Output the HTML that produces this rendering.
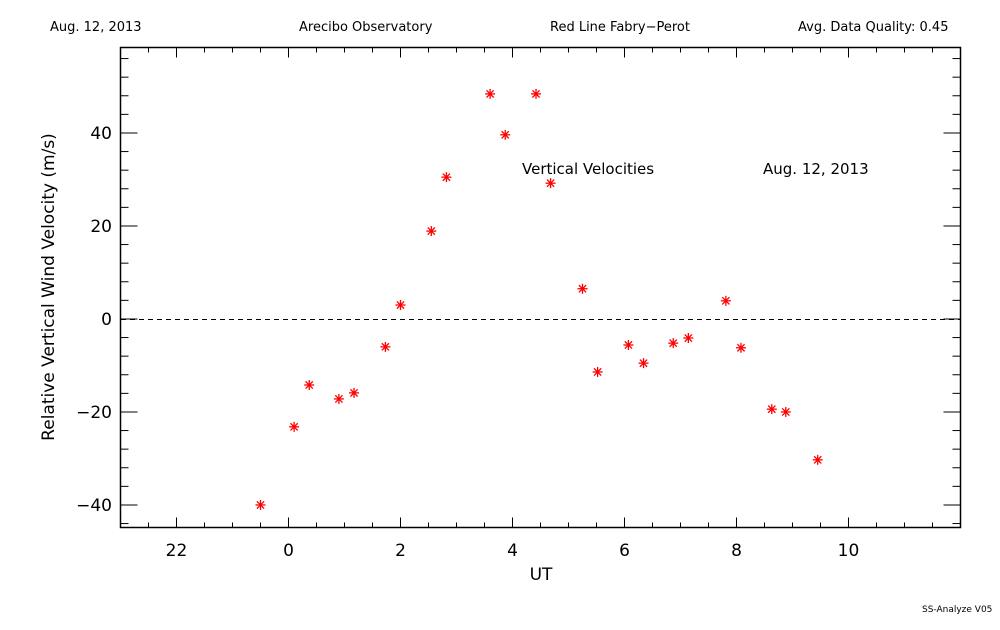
<!DOCTYPE html>
<html><head><meta charset="utf-8"><style>
body{margin:0;background:#fff;}
svg text{font-family:"DejaVu Sans","Liberation Sans",sans-serif;fill:#000;}
</style></head><body>
<svg id="chart" width="1000" height="625" viewBox="0 0 1000 625" xmlns="http://www.w3.org/2000/svg">
<rect width="1000" height="625" fill="#fff"/>
<text x="50" y="31" font-size="13">Aug. 12, 2013</text>
<text x="299" y="31" font-size="13">Arecibo Observatory</text>
<text x="550" y="31" font-size="13">Red Line Fabry−Perot</text>
<text x="798" y="31" font-size="13">Avg. Data Quality: 0.45</text>
<rect x="120.5" y="47.5" width="840" height="480" fill="none" stroke="#000" stroke-width="1.5"/>
<g id="ticks"></g>
<line x1="121" y1="319.5" x2="960" y2="319.5" stroke="#000" stroke-dasharray="5,4"/>
<text x="522" y="174" font-size="15">Vertical Velocities</text>
<text x="763" y="174" font-size="15">Aug. 12, 2013</text>
<text x="541" y="580" font-size="17" text-anchor="middle">UT</text>
<text transform="translate(54,287) rotate(-90)" font-size="17" text-anchor="middle">Relative Vertical Wind Velocity (m/s)</text>
<text x="922" y="612" font-size="9">SS-Analyze V05</text>
<g id="points"></g>
</svg>
<script>
const hours=[-0.5,0.1,0.37,0.9,1.17,1.73,2.0,2.55,2.82,3.6,3.87,4.42,4.68,5.25,5.52,6.07,6.34,6.87,7.14,7.81,8.08,8.63,8.88,9.45];
const velocities=[-40,-23.2,-14.2,-17.2,-15.9,-6,3,18.9,30.5,48.4,39.6,48.4,29.2,6.5,-11.4,-5.6,-9.5,-5.2,-4.1,3.9,-6.2,-19.4,-20,-30.3];
const xTickValues=[-2,0,2,4,6,8,10];
const xTickLabels=["22","0","2","4","6","8","10"];
const yTickValues=[-40,-20,0,20,40];
const NS="http://www.w3.org/2000/svg";
const X0=120.5,X1=960.5,Y0=527.5,Y1=47.5;
const xMin=-3,xMax=12,yMin=-44.85,yMax=58.38;
function sx(h){return X0+(h-xMin)/(xMax-xMin)*(X1-X0);}
function sy(v){return Y0-(v-yMin)/(yMax-yMin)*(Y0-Y1);}
function mk(tag,attrs,parent){const e=document.createElementNS(NS,tag);for(const k in attrs)e.setAttribute(k,attrs[k]);parent.appendChild(e);return e;}
const tg=document.getElementById('ticks');
for(let h=xMin+0.5;h<xMax;h+=0.5){
  const major=Number.isInteger(h)&&h%2===0;const len=major?10:5;const x=sx(h);
  const a=mk('line',{x1:x,y1:Y0,x2:x,y2:Y0-len,stroke:'#000'},tg);
  
  
  const b=mk('line',{x1:x,y1:Y1,x2:x,y2:Y1+len,stroke:'#000'},tg);
  
  
}
xTickValues.forEach((v,i)=>{
  const t=mk('text',{x:sx(v),y:556,'font-size':17,'text-anchor':'middle'},tg);
  t.textContent=xTickLabels[i];
  
  
});
for(let v=-44;v<yMax;v+=4){
  const major=v%20===0;const len=major?17:8;const y=sy(v);
  const a=mk('line',{x1:X0,y1:y,x2:X0+len,y2:y,stroke:'#000'},tg);
  
  
  const b=mk('line',{x1:X1,y1:y,x2:X1-len,y2:y,stroke:'#000'},tg);
  
  
}
yTickValues.forEach(v=>{
  const t=mk('text',{x:112,y:sy(v)+6,'font-size':17,'text-anchor':'end'},tg);
  t.textContent=v<0?'−'+Math.abs(v):String(v);
  
  
});
const pg=document.getElementById('points');
hours.forEach((h,i)=>{
  const x=sx(h),y=sy(velocities[i]);
  const g=mk('g',{stroke:'#f00','stroke-width':1.3},pg);
  
  
  const r=5;
  mk('line',{x1:x-r,y1:y,x2:x+r,y2:y},g);
  mk('line',{x1:x,y1:y-r,x2:x,y2:y+r},g);
  mk('line',{x1:x-3.6,y1:y-3.6,x2:x+3.6,y2:y+3.6},g);
  mk('line',{x1:x-3.6,y1:y+3.6,x2:x+3.6,y2:y-3.6},g);
});
</script>
</body></html>
